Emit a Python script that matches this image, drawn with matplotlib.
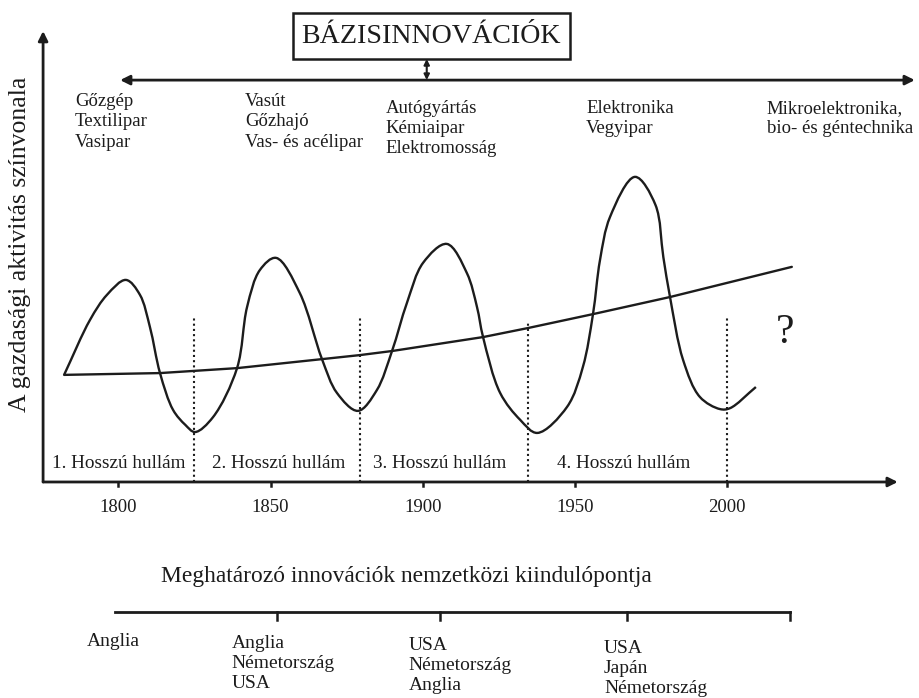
import matplotlib
matplotlib.use("Agg")
import matplotlib.pyplot as plt
import numpy as np
from matplotlib.patches import Rectangle, PathPatch
from matplotlib.path import Path

plt.rcParams['font.family'] = ['Liberation Serif', 'DejaVu Serif']

# long wave (years, level of economic activity)
wave_years = [1782.2, 1790.7, 1796.3, 1802.5, 1807.1, 1810.4, 1813.7, 1818.0, 1822.0, 1825.2,
              1831.1, 1839.0, 1842.3, 1846.5, 1851.8, 1859.6, 1866.9, 1871.8, 1878.7,
              1884.9, 1889.9, 1894.8, 1900.1, 1907.9, 1914.5, 1917.8, 1919.8, 1925.4,
              1932.0, 1937.6, 1947.4, 1952.6, 1955.9, 1958.2, 1961.5, 1969.7, 1976.4,
              1979.0, 1981.2, 1985.5, 1991.0, 1997.6, 2000.9, 2009.4]
wave_level = [23.8, 36.0, 41.6, 44.9, 41.6, 34.4, 24.2, 16.0, 12.7, 11.1,
              14.4, 25.3, 38.9, 47.1, 49.8, 42.0, 27.3, 19.8, 15.8,
              20.4, 29.1, 39.8, 48.7, 52.9, 46.4, 38.9, 32.2, 19.8,
              13.8, 10.9, 16.7, 25.6, 37.3, 49.3, 58.9, 67.8, 61.6,
              50.0, 41.1, 27.1, 18.9, 16.2, 16.4, 21.1]

# underlying trend
trend_years = [1782.2, 1813.7, 1825.2, 1839.0, 1866.9, 1879.4, 1889.9, 1919.8, 1934.5,
               1955.9, 1981.2, 2021.2]
trend_level = [23.8, 24.2, 24.7, 25.3, 27.3, 28.2, 29.1, 32.2, 34.2, 37.3, 41.1, 47.8]

# boundaries between the long waves
boundaries = [1825, 1879.4, 1934.5, 2000]
boundary_top = [36.4, 36.4, 35.3, 36.4]

wave_labels = ['1. Hosszú hullám', '2. Hosszú hullám', '3. Hosszú hullám', '4. Hosszú hullám']
wave_label_x = [1800.2, 1852.7, 1905.6, 1965.9]

tick_years = [1800, 1850, 1900, 1950, 2000]

innovations = ['Gőzgép\nTextilipar\nVasipar',
               'Vasút\nGőzhajó\nVas- és acélipar',
               'Autógyártás\nKémiaipar\nElektromosság',
               'Elektronika\nVegyipar',
               'Mikroelektronika,\nbio- és géntechnika']
innov_x = [1785.8, 1841.6, 1887.9, 1953.6, 2013.0]
innov_top = [86.4, 86.4, 84.9, 84.9, 84.9]

countries = ['Anglia',
             'Anglia\nNémetország\nUSA',
             'USA\nNémetország\nAnglia',
             'USA\nJapán\nNémetország']
country_x = [1789.7, 1837.3, 1895.4, 1959.5]
country_top = [-33.6, -34.1, -34.5, -35.2]
country_ticks = [1852.1, 1905.6, 1967.0, 2020.6]

ink = '#1c1c1c'


def smooth_path(xs, ys, sx=3.045, sy=4.5):
    # centripetal Catmull-Rom through the read points, drawn as Bezier segments
    p = np.column_stack([xs, ys]).astype(float)
    s = np.array([sx, sy])
    ext = np.vstack([2 * p[0] - p[1], p, 2 * p[-1] - p[-2]])
    verts = [p[0]]
    codes = [Path.MOVETO]
    for i in range(1, len(ext) - 2):
        p0, p1, p2, p3 = ext[i - 1], ext[i], ext[i + 1], ext[i + 2]
        d0 = np.linalg.norm((p1 - p0) * s) ** 0.5
        d1 = np.linalg.norm((p2 - p1) * s) ** 0.5
        d2 = np.linalg.norm((p3 - p2) * s) ** 0.5
        m1 = d1 * ((p1 - p0) / d0 - (p2 - p0) / (d0 + d1)) + (p2 - p1)
        m2 = d1 * ((p3 - p2) / d2 - (p3 - p1) / (d1 + d2)) + (p2 - p1)
        verts += [p1 + m1 / 3, p2 - m2 / 3, p2]
        codes += [Path.CURVE4] * 3
    return Path(verts, codes)


fig = plt.figure(figsize=(9.2, 6.98), dpi=100)
ax = fig.add_axes([0, 0, 1, 1])
ax.set_xlim(1761.15, 2063.3)
ax.set_ylim(-48.0, 107.1)
ax.axis('off')

# axes with arrows
ax.annotate('', xy=(1775.3, 100.2), xytext=(1775.3, 0),
            arrowprops=dict(arrowstyle='-|>', lw=2, color=ink, mutation_scale=14,
                            shrinkA=0, shrinkB=0))
ax.annotate('', xy=(2056.0, 0), xytext=(1775.3, 0),
            arrowprops=dict(arrowstyle='-|>', lw=2, color=ink, mutation_scale=14,
                            shrinkA=0, shrinkB=0))
for t in tick_years:
    ax.plot([t, t], [0, -0.9], color=ink, lw=1.8)
    ax.text(t, -5.6, str(t), ha='center', va='center', fontsize=13.5, color=ink)

ax.text(1767.7, 52.9, 'A gazdasági aktivitás színvonala', rotation=90,
        ha='center', va='center', fontsize=18.5, color=ink)

# curves
ax.plot(trend_years, trend_level, color=ink, lw=1.7, solid_capstyle='round')
ax.add_patch(PathPatch(smooth_path(wave_years, wave_level), fill=False,
                       edgecolor=ink, lw=1.7, joinstyle='round'))

for b, top in zip(boundaries, boundary_top):
    ax.plot([b, b], [0, top], color=ink, lw=1.5, linestyle=(0, (1, 1.5)))

for lab, x in zip(wave_labels, wave_label_x):
    ax.text(x, 4.2, lab, ha='center', va='center', fontsize=13.8, color=ink)

ax.text(2019.0, 33.2, '?', ha='center', va='center', fontsize=30, color=ink)

# basic innovations header
ax.add_patch(Rectangle((1857.4, 94.0), 1948.3 - 1857.4, 104.2 - 94.0,
                       fill=False, edgecolor=ink, lw=1.8))
ax.text(1902.8, 99.1, 'BÁZISINNOVÁCIÓK', ha='center', va='center',
        fontsize=20.2, color=ink)
ax.annotate('', xy=(1800.6, 89.3), xytext=(2061.6, 89.3),
            arrowprops=dict(arrowstyle='<|-|>', lw=2, color=ink, mutation_scale=14,
                            shrinkA=0, shrinkB=0))
ax.annotate('', xy=(1901.3, 94.0), xytext=(1901.3, 89.3),
            arrowprops=dict(arrowstyle='<|-|>', lw=1.5, color=ink, mutation_scale=8,
                            shrinkA=0, shrinkB=0))
for txt, x, top in zip(innovations, innov_x, innov_top):
    ax.text(x, top, txt, ha='left', va='top', fontsize=13.5, color=ink,
            linespacing=1.25)

# countries of origin
ax.text(1894.7, -21.1, 'Meghatározó innovációk nemzetközi kiindulópontja',
        ha='center', va='center', fontsize=16.9, color=ink)
ax.plot([1798.9, 2020.6], [-28.9, -28.9], color=ink, lw=2)
for t in country_ticks:
    ax.plot([t, t], [-28.9, -30.7], color=ink, lw=1.8)
for txt, x, top in zip(countries, country_x, country_top):
    ax.text(x, top, txt, ha='left', va='top', fontsize=14, color=ink,
            linespacing=1.22)

fig.savefig('out.png', dpi=100)
